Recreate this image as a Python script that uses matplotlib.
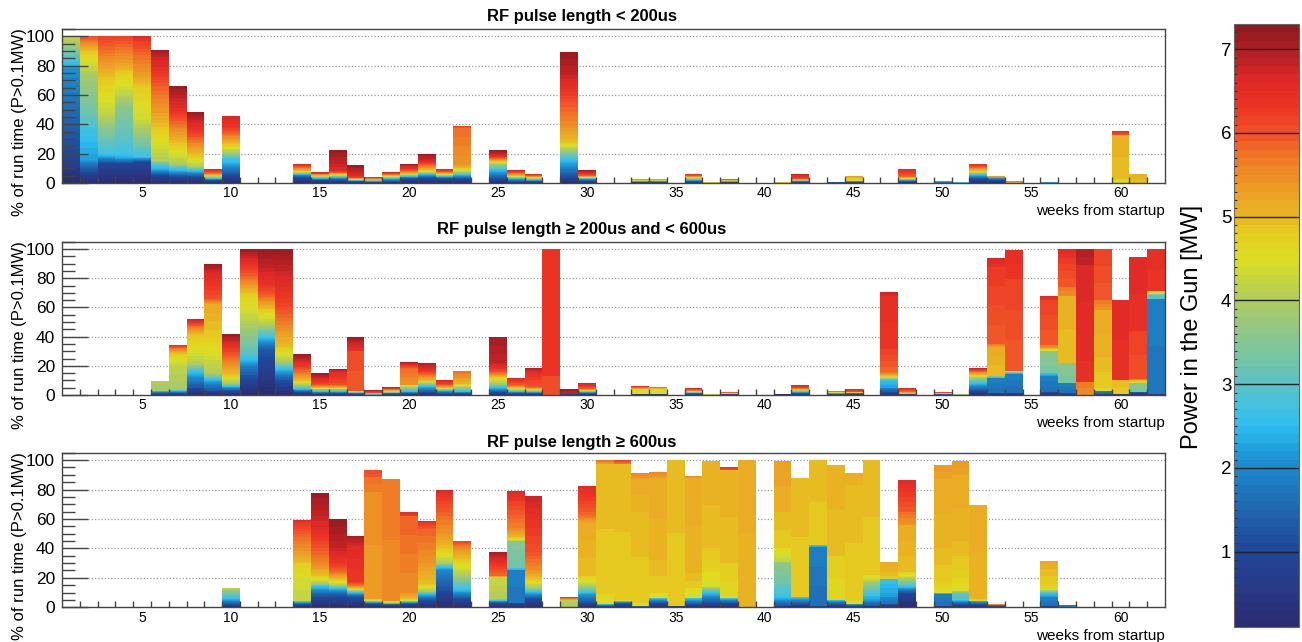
import numpy as np
import matplotlib
matplotlib.use("Agg")
import matplotlib.pyplot as plt
from matplotlib.colors import LinearSegmentedColormap, ListedColormap, BoundaryNorm
from matplotlib.cm import ScalarMappable
from matplotlib.ticker import FixedLocator, MultipleLocator

plt.rcParams['font.family'] = ['Liberation Sans', 'DejaVu Sans']

# ---------------------------------------------------------------------------
# Weekly run-time fractions, split by gun power.
# Each week holds (P_low [MW], P_high [MW], % of run time) slices, stacked
# from low to high power.
# ---------------------------------------------------------------------------
short_pulse = {   # RF pulse length < 200 us
    1: [(0.1, 1.0, 18), (1.0, 2.1, 60), (2.1, 2.8, 6), (2.8, 3.6, 8), (3.6, 4.3, 8)],
    2: [(0.1, 1.0, 7), (1.0, 2.2, 9), (2.2, 2.7, 20), (2.7, 3.2, 11), (3.2, 3.9, 26), (3.9, 4.3, 7), (4.3, 4.8, 9), (4.8, 5.7, 8), (5.7, 6.1, 3)],
    3: [(0.1, 1.0, 13), (1.0, 2.3, 5), (2.3, 2.7, 2), (2.7, 3.5, 16), (3.5, 4.2, 11), (4.2, 4.8, 23), (4.8, 5.3, 10), (5.3, 5.8, 11), (5.8, 6.2, 9)],
    4: [(0.1, 1.0, 13), (1.0, 2.3, 4), (2.3, 2.7, 3), (2.7, 3.6, 32), (3.6, 4.2, 9), (4.2, 4.8, 14), (4.8, 5.3, 7), (5.3, 5.8, 11), (5.8, 6.2, 7)],
    5: [(0.1, 1.0, 14), (1.0, 2.7, 4), (2.7, 3.8, 16), (3.8, 4.3, 9), (4.3, 4.8, 22), (4.8, 5.3, 8), (5.3, 5.8, 14), (5.8, 6.2, 9), (6.2, 6.6, 4)],
    6: [(0.1, 1.0, 5), (1.0, 2.3, 4), (2.3, 2.8, 3), (2.8, 4.0, 3), (4.0, 4.8, 21), (4.8, 5.3, 12), (5.3, 5.9, 18), (5.9, 6.4, 11), (6.4, 6.9, 11), (6.9, 7.2, 2.6)],
    7: [(0.1, 1.0, 4), (1.0, 2.3, 4), (2.3, 2.8, 2), (2.8, 4.0, 3), (4.0, 4.8, 13), (4.8, 5.3, 7), (5.3, 5.9, 9), (5.9, 6.4, 7), (6.4, 6.9, 11), (6.9, 7.2, 6)],
    8: [(0.1, 1.0, 4), (1.0, 2.3, 3.5), (2.3, 2.8, 1.5), (2.8, 4.0, 2), (4.0, 4.8, 7), (4.8, 5.6, 9), (5.6, 6.2, 7), (6.2, 6.8, 9), (6.8, 7.2, 5.6)],
    9: [(0.1, 1.0, 1.6), (1.0, 2.8, 1.6), (2.8, 4.8, 1.8), (4.8, 5.8, 1.6), (5.8, 6.6, 2.8)],
    10: [(0.1, 1.0, 4.5), (1.0, 2.3, 8.5), (2.3, 2.8, 4), (2.8, 4.0, 4), (4.0, 4.8, 5), (4.8, 5.3, 3.5), (5.3, 5.9, 4.5), (5.9, 6.3, 4.5), (6.3, 6.7, 6.9)],
    14: [(0.1, 1.2, 4), (1.2, 2.6, 2), (2.6, 4.0, 1), (4.0, 5.0, 1.5), (5.0, 6.0, 2.5), (6.0, 6.8, 2.2)],
    15: [(0.1, 1.2, 2), (1.2, 2.6, 1.2), (2.6, 4.0, 1), (4.0, 5.0, 1), (5.0, 6.0, 1), (6.0, 6.8, 1.1)],
    16: [(0.1, 1.2, 2), (1.2, 2.6, 2), (2.6, 4.0, 1), (4.0, 5.0, 1), (5.0, 6.0, 1.2), (6.0, 6.6, 1.3), (6.6, 7.2, 13.8)],
    17: [(0.1, 1.2, 1), (1.2, 2.6, 0.8), (2.6, 4.0, 0.4), (4.0, 5.0, 0.6), (5.0, 6.0, 0.7), (6.0, 6.6, 1.5), (6.6, 7.2, 7.5)],
    18: [(0.1, 1.2, 0.5), (1.2, 3.0, 1.0), (3.0, 5.0, 0.8), (5.0, 6.6, 1.6)],
    19: [(0.1, 1.2, 1), (1.2, 2.6, 2), (2.6, 4.0, 1), (4.0, 5.0, 1), (5.0, 6.0, 1), (6.0, 6.8, 1.5)],
    20: [(0.1, 1.2, 3), (1.2, 2.6, 1.5), (2.6, 4.0, 1), (4.0, 5.0, 1), (5.0, 5.8, 1.5), (5.8, 6.6, 3), (6.6, 7.2, 2.2)],
    21: [(0.1, 1.2, 3.5), (1.2, 2.6, 2.5), (2.6, 4.0, 1), (4.0, 5.0, 2), (5.0, 5.8, 3), (5.8, 6.6, 3), (6.6, 7.2, 4.8)],
    22: [(0.1, 1.2, 3), (1.2, 2.6, 1.5), (2.6, 4.0, 0.8), (4.0, 5.0, 1), (5.0, 6.0, 1.5), (6.0, 6.8, 2)],
    23: [(0.1, 1.2, 3), (1.2, 2.6, 2.5), (2.6, 4.0, 2), (4.0, 5.0, 3), (5.0, 5.4, 2), (5.4, 5.8, 25), (5.8, 6.2, 1.1)],
    25: [(0.1, 1.2, 3), (1.2, 2.6, 6), (2.6, 4.0, 4), (4.0, 5.0, 2), (5.0, 6.0, 2), (6.0, 6.6, 1.5), (6.6, 7.2, 4)],
    26: [(0.1, 1.2, 1), (1.2, 2.6, 2), (2.6, 4.0, 1), (4.0, 5.0, 1), (5.0, 6.0, 2), (6.0, 6.8, 1.9)],
    27: [(0.1, 1.2, 1), (1.2, 2.6, 1), (2.6, 4.0, 1), (4.0, 5.0, 1), (5.0, 6.0, 1), (6.0, 6.8, 1.4)],
    29: [(0.1, 1.2, 4.5), (1.2, 2.6, 11.5), (2.6, 4.0, 7), (4.0, 4.9, 5), (4.9, 5.5, 11), (5.5, 6.0, 16), (6.0, 6.4, 9), (6.4, 6.9, 12), (6.9, 7.2, 13.3)],
    30: [(0.1, 1.2, 1.5), (1.2, 2.6, 1.5), (2.6, 4.0, 0.5), (4.0, 5.0, 0.7), (5.0, 6.0, 1), (6.0, 6.6, 1.8), (6.6, 7.2, 2.1)],
    33: [(0.1, 1.5, 0.8), (1.5, 4.5, 0.9), (4.5, 6.5, 1.3)],
    34: [(0.1, 1.5, 0.8), (1.5, 4.5, 1.0), (4.5, 6.3, 1.2)],
    36: [(0.1, 1.2, 1), (1.2, 2.6, 1), (2.6, 4.0, 1), (4.0, 5.0, 1), (5.0, 6.0, 1), (6.0, 6.6, 1.4)],
    37: [(4.5, 5.0, 0.6)],
    38: [(0.1, 1.5, 0.8), (1.5, 4.5, 0.7), (4.5, 6.5, 1.2)],
    41: [(4.5, 5.0, 0.6)],
    42: [(0.1, 1.2, 0.8), (1.2, 3.0, 0.7), (3.0, 5.0, 0.6), (5.0, 6.0, 0.8), (6.0, 6.8, 3.0)],
    44: [(0.5, 2.0, 0.8)],
    45: [(0.1, 2.0, 1.0), (2.0, 4.5, 0.5), (4.5, 5.2, 2.8), (5.2, 6.2, 0.7)],
    48: [(0.1, 1.2, 1), (1.2, 2.6, 1), (2.6, 4.5, 1), (4.5, 5.8, 1.3), (5.8, 6.6, 5)],
    50: [(0.1, 2.0, 0.4), (5.5, 6.2, 1.2)],
    51: [(2.5, 3.0, 0.6)],
    52: [(0.1, 1.2, 3), (1.2, 2.6, 2.5), (2.6, 4.0, 1.5), (4.0, 5.0, 1.5), (5.0, 6.0, 2.5), (6.0, 6.6, 2)],
    53: [(0.1, 1.2, 2), (1.2, 2.6, 1.8), (2.6, 5.0, 0.4), (5.0, 6.2, 0.8)],
    54: [(0.5, 2.0, 0.3), (5.2, 5.8, 1.1)],
    56: [(1.5, 2.8, 0.6), (4.2, 4.8, 0.4)],
    60: [(4.4, 4.7, 3), (4.9, 5.1, 30), (6.0, 6.5, 2.5)],
    61: [(4.9, 5.1, 6), (5.8, 6.2, 0.4)],
}

mid_pulse = {   # 200 us <= RF pulse length < 600 us
    6: [(0.1, 1.2, 1), (1.2, 2.8, 2), (3.8, 4.1, 6.5)],
    7: [(0.1, 1.2, 1.2), (1.2, 2.8, 1.8), (2.8, 3.9, 1), (3.9, 4.2, 16), (4.2, 4.8, 8), (4.8, 5.8, 4), (5.8, 6.4, 2)],
    8: [(0.1, 1.2, 5), (1.2, 2.2, 8), (2.2, 2.8, 4), (2.8, 4.0, 4), (4.0, 4.5, 10), (4.5, 4.9, 10), (4.9, 5.8, 6), (5.8, 6.8, 5)],
    9: [(0.1, 1.2, 3), (1.2, 2.2, 6), (2.2, 2.8, 2), (2.8, 4.0, 4), (4.0, 4.8, 24), (4.8, 5.2, 23), (5.2, 6.0, 4), (6.0, 6.6, 17), (6.6, 7.2, 7)],
    10: [(0.1, 1.2, 3), (1.2, 2.6, 3), (2.6, 4.0, 2), (4.0, 4.9, 6), (4.9, 5.5, 7), (5.5, 6.2, 10), (6.2, 6.8, 6), (6.8, 7.2, 5)],
    11: [(0.1, 1.8, 19), (1.8, 3.0, 9), (3.0, 4.2, 25), (4.2, 4.8, 16), (4.8, 5.8, 11), (5.8, 6.6, 13), (6.6, 7.2, 7)],
    12: [(0.1, 1.3, 31), (1.3, 2.7, 9), (2.7, 4.0, 8), (4.0, 4.8, 10), (4.8, 5.8, 9), (5.8, 6.4, 9), (6.4, 6.9, 14), (6.9, 7.2, 10)],
    13: [(0.1, 1.2, 10), (1.2, 2.6, 8), (2.6, 4.0, 5), (4.0, 4.9, 10), (4.9, 5.6, 15), (5.6, 6.2, 15), (6.2, 6.8, 22), (6.8, 7.2, 15)],
    14: [(0.1, 1.2, 2), (1.2, 2.6, 2), (2.6, 4.0, 3), (4.0, 5.0, 3), (5.0, 5.8, 6), (5.8, 6.4, 5), (6.4, 7.2, 7)],
    15: [(0.1, 1.2, 1), (1.2, 2.6, 1.5), (2.6, 4.0, 1.5), (4.0, 5.0, 1), (5.0, 6.0, 2), (6.0, 6.6, 4), (6.6, 7.2, 3.8)],
    16: [(0.1, 1.2, 1), (1.2, 2.6, 1.5), (2.6, 4.0, 1.5), (4.0, 5.0, 1), (5.0, 6.0, 2), (6.0, 6.6, 9), (6.6, 7.2, 2)],
    17: [(0.1, 1.5, 1), (1.5, 5.0, 1.5), (5.9, 6.1, 27.5), (6.4, 6.8, 6), (6.8, 7.2, 4)],
    18: [(2.5, 4.0, 1.5), (6.0, 7.0, 1.9)],
    19: [(0.1, 1.5, 1), (1.5, 4.0, 1), (4.0, 5.0, 1), (5.0, 6.0, 1), (6.0, 6.8, 1.2)],
    20: [(0.1, 1.2, 1), (1.2, 2.6, 1.5), (2.6, 4.0, 3), (4.0, 5.0, 1.5), (5.4, 5.8, 11), (5.8, 6.4, 2.5), (6.4, 7.0, 2)],
    21: [(0.1, 1.2, 2), (1.2, 2.6, 4), (2.6, 4.0, 2), (4.0, 5.0, 2), (5.0, 5.8, 4), (5.8, 6.4, 3), (6.4, 7.0, 5)],
    22: [(0.1, 1.2, 1), (1.2, 2.6, 2), (2.6, 4.0, 1), (4.0, 5.0, 1), (5.0, 6.0, 2), (6.0, 6.8, 3.5)],
    23: [(0.1, 1.2, 1), (1.2, 2.6, 1.5), (2.6, 3.8, 2.5), (3.8, 5.0, 2.5), (5.0, 5.8, 8.9)],
    25: [(0.1, 1.2, 2), (1.2, 2.6, 3), (2.6, 4.0, 3), (4.0, 4.8, 4), (4.8, 5.8, 3), (5.8, 6.4, 3), (6.4, 6.8, 4), (6.8, 7.1, 17.8)],
    26: [(0.1, 1.2, 1), (1.2, 2.6, 1.5), (2.6, 4.5, 1.5), (4.5, 5.8, 2.5), (5.8, 6.6, 5.3)],
    27: [(0.1, 1.2, 1), (1.2, 2.6, 1), (2.6, 4.0, 1), (4.0, 5.0, 1), (5.0, 6.0, 1.5), (6.0, 6.4, 9), (6.4, 7.0, 4.1)],
    28: [(6.0, 6.1, 13), (6.3, 6.4, 87)],
    29: [(0.1, 1.2, 0.5), (2.5, 3.5, 0.5), (6.8, 7.2, 2.9)],
    30: [(0.1, 1.2, 1), (1.2, 2.6, 1), (2.6, 4.5, 1), (4.5, 5.8, 1), (5.8, 6.8, 4)],
    33: [(0.1, 1.5, 1), (4.4, 4.6, 3), (5.0, 5.8, 1), (5.8, 6.5, 1.1)],
    34: [(0.1, 1.5, 0.8), (4.4, 4.6, 3.5), (5.0, 5.8, 0.9)],
    36: [(0.1, 1.5, 1), (1.5, 4.5, 1.2), (4.5, 5.8, 1), (5.8, 6.6, 1.3)],
    37: [(3.8, 4.2, 0.4)],
    38: [(0.1, 1.5, 0.6), (3.0, 5.0, 0.6), (5.5, 6.5, 1.1)],
    41: [(0.1, 0.3, 0.4)],
    42: [(0.1, 1.2, 1), (1.2, 2.6, 1), (2.6, 4.0, 1), (4.0, 5.0, 0.7), (5.0, 6.0, 1), (6.0, 6.8, 2.1)],
    44: [(0.1, 1.5, 0.8), (1.5, 4.5, 0.8), (4.5, 6.2, 1.1)],
    45: [(0.1, 1.5, 1), (1.5, 4.5, 0.6), (4.5, 6.0, 0.5), (6.0, 6.6, 2.0)],
    47: [(0.1, 1.2, 2), (1.2, 2.0, 3), (2.2, 2.6, 5), (2.6, 4.8, 2.5), (4.8, 5.8, 3), (5.8, 6.2, 16), (6.3, 6.5, 36), (6.6, 6.8, 3)],
    48: [(0.1, 1.5, 0.5), (2.5, 4.8, 0.8), (4.8, 5.8, 1), (5.8, 6.6, 2.2)],
    50: [(0.1, 1.5, 0.4), (3.0, 5.0, 0.7), (5.5, 6.5, 0.9)],
    51: [(3.2, 3.8, 0.5)],
    52: [(0.1, 1.2, 3), (1.2, 2.6, 5), (2.6, 4.0, 4), (4.0, 5.0, 2), (5.0, 6.0, 2.5), (6.0, 6.8, 1.7)],
    53: [(0.1, 1.2, 1.5), (1.6, 1.9, 10), (2.2, 4.6, 2.5), (4.9, 5.2, 19), (5.3, 5.8, 2), (5.9, 6.3, 53), (6.4, 6.7, 5.6)],
    54: [(0.1, 1.2, 1.5), (1.6, 1.9, 13), (2.2, 4.8, 2), (5.9, 6.2, 63), (6.3, 6.5, 19.8)],
    56: [(0.1, 1.2, 2), (1.6, 1.9, 11), (2.2, 2.6, 2), (3.3, 3.6, 15), (4.4, 5.0, 2), (5.3, 5.7, 2), (5.9, 6.2, 31), (6.4, 6.6, 2.5)],
    57: [(0.1, 1.2, 1.2), (1.6, 1.9, 6.8), (3.3, 3.6, 14), (4.9, 5.1, 46), (5.5, 5.7, 6), (5.9, 6.1, 11), (6.1, 6.3, 9), (6.4, 6.6, 6)],
    58: [(5.5, 5.7, 9), (6.4, 6.6, 28), (6.5, 6.7, 52), (6.8, 7.0, 11)],
    59: [(0.1, 1.2, 1), (1.5, 2.0, 2), (4.4, 4.7, 2), (4.8, 5.0, 21), (5.0, 5.2, 32), (5.4, 5.7, 7), (5.9, 6.2, 35)],
    60: [(0.1, 1.5, 1), (4.8, 5.0, 9), (6.4, 6.6, 55.2)],
    61: [(0.1, 1.5, 2), (3.3, 3.6, 6), (4.5, 5.0, 2), (5.5, 5.8, 1), (6.0, 6.2, 33), (6.4, 6.6, 50.8)],
    62: [(0.1, 1.2, 1), (1.7, 1.9, 65), (2.9, 3.3, 3), (4.3, 4.8, 2), (6.3, 6.5, 29)],
}

long_pulse = {   # RF pulse length >= 600 us
    10: [(0.1, 1.2, 2), (1.2, 2.6, 4), (2.6, 3.6, 5), (3.6, 4.2, 1.9)],
    14: [(0.1, 1.2, 2), (1.2, 2.8, 2), (4.2, 4.4, 16), (4.5, 4.8, 10), (4.9, 5.4, 8), (5.4, 5.9, 12), (5.9, 6.3, 7), (6.3, 6.6, 2.3)],
    15: [(0.1, 1.2, 8), (1.2, 2.6, 6), (2.6, 4.0, 2.5), (4.0, 4.9, 5), (4.9, 5.5, 7), (5.5, 6.0, 12), (6.0, 6.6, 14), (6.6, 7.2, 23.3)],
    16: [(0.1, 1.2, 8), (1.2, 2.6, 5), (2.6, 4.0, 2), (4.0, 4.9, 4), (4.9, 5.8, 5), (5.8, 6.3, 6), (6.3, 6.8, 10), (6.8, 7.2, 19.7)],
    17: [(0.1, 1.2, 7), (1.2, 2.6, 3), (2.6, 4.5, 2), (4.5, 5.8, 3), (5.8, 6.2, 2), (6.3, 6.6, 24), (6.6, 7.1, 7.4)],
    18: [(0.1, 1.5, 3), (2.0, 3.0, 1), (4.0, 5.0, 1.5), (5.3, 5.5, 73), (5.6, 5.8, 10), (5.9, 6.1, 4.5)],
    19: [(0.1, 1.5, 2), (2.0, 3.0, 1), (4.2, 5.0, 1.5), (5.5, 5.7, 82.5)],
    20: [(0.1, 1.5, 3), (2.0, 3.0, 1), (4.2, 5.0, 2), (5.0, 5.4, 4), (5.5, 5.9, 52), (6.2, 6.5, 2.5)],
    21: [(0.1, 1.2, 5), (1.2, 2.6, 4), (2.6, 4.0, 2), (4.0, 4.9, 5), (4.9, 5.4, 14), (5.4, 5.9, 23), (5.9, 6.3, 4), (6.3, 6.6, 1.6)],
    22: [(0.1, 1.2, 12), (1.2, 2.0, 13), (2.0, 2.8, 3), (2.8, 4.0, 2), (4.0, 4.9, 10), (4.9, 5.4, 10), (5.4, 5.9, 15), (5.9, 6.3, 10), (6.3, 6.7, 5)],
    23: [(0.1, 1.2, 6), (1.2, 2.6, 6), (2.6, 4.0, 10), (4.0, 4.9, 11), (4.9, 5.6, 8), (5.6, 6.2, 4)],
    25: [(0.1, 1.2, 3), (1.2, 2.6, 1.5), (2.6, 3.8, 1), (4.0, 4.3, 14.5), (4.5, 5.8, 1.5), (5.8, 6.2, 6), (6.2, 6.7, 6), (6.7, 7.1, 4.3)],
    26: [(0.1, 1.2, 3), (1.7, 1.9, 22), (2.2, 2.8, 2), (3.2, 3.5, 18), (4.2, 5.0, 3), (5.0, 5.6, 6), (5.6, 6.2, 18), (6.3, 6.6, 7)],
    27: [(0.1, 1.2, 6), (1.2, 2.6, 4.5), (2.6, 4.0, 3), (4.0, 4.9, 6), (4.9, 5.5, 6), (5.5, 6.0, 12), (6.0, 6.4, 22), (6.4, 6.8, 16.1)],
    29: [(3.9, 4.2, 5), (5.0, 5.8, 1), (6.0, 6.6, 1.2)],
    30: [(0.1, 1.2, 3), (1.2, 2.2, 6), (2.2, 2.8, 1.5), (2.8, 4.2, 5), (4.2, 4.8, 6), (4.9, 5.2, 36), (5.2, 5.8, 5), (5.8, 6.2, 10), (6.2, 6.6, 10.1)],
    31: [(0.1, 1.5, 1), (1.6, 2.4, 1), (4.5, 4.7, 7), (4.8, 5.0, 88), (5.2, 5.8, 3)],
    32: [(0.1, 1.2, 2.5), (1.2, 2.6, 1.5), (4.4, 4.6, 1), (4.8, 5.0, 92), (5.6, 6.2, 3)],
    33: [(0.1, 2.5, 1), (4.4, 4.6, 2), (4.8, 5.0, 62), (5.0, 5.2, 22), (5.3, 5.6, 4)],
    34: [(0.1, 1.2, 3), (1.2, 2.6, 3), (4.4, 4.6, 4), (4.8, 5.0, 22), (5.0, 5.2, 56), (5.3, 5.6, 3.6)],
    35: [(0.1, 1.2, 0.8), (4.8, 5.0, 99.2)],
    36: [(0.1, 1.2, 2), (1.2, 2.6, 4), (4.4, 4.6, 7), (4.8, 5.0, 10), (5.0, 5.2, 65), (5.3, 5.6, 1.4)],
    37: [(0.1, 1.2, 3), (1.2, 2.6, 7), (2.6, 4.2, 4), (4.4, 4.6, 10), (4.7, 4.9, 16), (4.9, 5.1, 59.3)],
    38: [(0.1, 1.2, 3), (1.2, 2.6, 3), (4.6, 4.8, 24), (4.9, 5.1, 63), (6.0, 6.4, 2.5)],
    39: [(0.1, 1.2, 0.5), (5.0, 5.2, 99.5)],
    41: [(0.1, 1.2, 1), (1.2, 2.6, 6), (2.6, 3.2, 9), (3.2, 3.7, 15), (4.2, 4.6, 9), (4.8, 5.0, 25), (5.1, 5.3, 34.3)],
    42: [(0.1, 1.2, 2), (1.2, 2.6, 5), (4.8, 5.0, 81)],
    43: [(0.1, 1.2, 1), (1.6, 1.9, 40), (2.2, 2.8, 1.5), (4.8, 5.0, 57.5)],
    44: [(0.1, 1.2, 2), (1.2, 2.6, 3), (4.6, 4.8, 30), (4.9, 5.1, 61.6)],
    45: [(0.1, 1.2, 1), (1.2, 2.6, 1.5), (4.4, 4.8, 2.5), (4.8, 5.0, 78), (5.0, 5.2, 8)],
    46: [(0.1, 1.2, 1), (1.2, 2.2, 4), (2.2, 2.8, 5), (2.8, 4.0, 8), (4.2, 4.6, 4), (4.8, 5.0, 78)],
    47: [(0.1, 1.2, 2), (1.6, 2.0, 5), (2.2, 2.6, 12), (4.8, 5.0, 5), (5.0, 5.2, 6.5)],
    48: [(0.1, 1.0, 10), (1.2, 2.6, 4), (2.6, 4.0, 5), (4.0, 4.8, 5), (4.9, 5.2, 32), (5.4, 5.8, 9), (5.9, 6.3, 13), (6.3, 6.6, 8.4)],
    50: [(0.1, 1.2, 1), (1.6, 1.9, 8), (2.2, 2.6, 1), (4.5, 4.8, 7), (4.8, 5.0, 23), (5.0, 5.2, 47), (5.2, 5.4, 9.6)],
    51: [(0.1, 1.2, 2), (1.2, 2.6, 3), (2.9, 3.2, 5), (3.4, 4.2, 1), (4.5, 4.8, 14), (4.8, 5.0, 20), (5.0, 5.2, 45), (5.2, 5.4, 9.3)],
    52: [(0.1, 1.2, 2), (1.2, 2.6, 2.5), (4.6, 4.8, 1), (5.0, 5.2, 64)],
    53: [(0.1, 1.8, 1.3), (5.2, 5.8, 1)],
    56: [(0.1, 1.2, 1), (1.6, 1.9, 6), (2.2, 2.6, 3), (3.0, 4.4, 2), (4.5, 4.8, 4), (4.8, 5.0, 10), (5.0, 5.2, 5.4)],
    57: [(1.7, 1.9, 1.3)],
}

panel_data = [short_pulse, mid_pulse, long_pulse]
panel_titles = ["RF pulse length < 200us",
                "RF pulse length \u2265 200us and < 600us",
                "RF pulse length \u2265 600us"]
week_labels = [5, 10, 15, 20, 25, 30, 35, 40, 45, 50, 55, 60]
n_weeks = 62
power_labels = [1, 2, 3, 4, 5, 6, 7]

# ---------------------------------------------------------------------------
# Power palette: 0.1 MW wide colour bands from 0.1 to 7.3 MW
# ---------------------------------------------------------------------------
anchor_p = [0.1, 0.6, 1.0, 1.5, 2.0, 2.3, 2.5, 2.8, 3.0, 3.5, 4.0, 4.5, 4.8,
            5.0, 5.3, 5.6, 6.0, 6.3, 6.6, 7.0, 7.3]
anchor_c = ["#2a2c70", "#283a88", "#1f4797", "#2066ae", "#1d88cc", "#22a8e0",
            "#2ebdef", "#48c2da", "#5cc2c3", "#85c694", "#aecb5e", "#dcdf22",
            "#e4cc20", "#e8b822", "#eba025", "#ee8526", "#f05328", "#eb3625",
            "#e02a26", "#b01f25", "#8c191e"]
p_min, p_max, p_step = 0.1, 7.3, 0.1
smooth = LinearSegmentedColormap.from_list(
    "gun", [((p - p_min) / (p_max - p_min), c) for p, c in zip(anchor_p, anchor_c)])
n_bands = int(round((p_max - p_min) / p_step))
band_edges = p_min + p_step * np.arange(n_bands + 1)
band_colors = smooth((np.arange(n_bands) + 0.5) / n_bands)
band_cmap = ListedColormap(band_colors)
band_norm = BoundaryNorm(band_edges, n_bands)


def band_index(p):
    return int(round((p - p_min) / p_step))


def draw_stack(ax, weekly):
    xs, hs, bs, cs = [], [], [], []
    for week, slices in weekly.items():
        base = 0.0
        for p_lo, p_hi, pct in slices:
            i0 = min(max(band_index(p_lo), 0), n_bands - 1)
            n = max(1, band_index(p_hi) - band_index(p_lo))
            for k in range(n):
                xs.append(week)
                hs.append(pct / n)
                bs.append(base + pct * k / n)
                cs.append(band_colors[min(i0 + k, n_bands - 1)])
            base += pct
    ax.bar(xs, hs, width=1.0, bottom=bs, color=cs, linewidth=0,
           antialiased=False, zorder=1)


# ---------------------------------------------------------------------------
# Figure layout (pixel geometry of a 1302 x 642 canvas)
# ---------------------------------------------------------------------------
W, H = 1302, 642
fig = plt.figure(figsize=(W / 100, H / 100), dpi=100)
ax_left, ax_right = 62, 1165
panel_px = [(29, 183), (241.7, 395), (452.7, 607.3)]
title_y = [17, 230, 442]
axis_col = "#444444"

for k, (weekly, (top, bottom)) in enumerate(zip(panel_data, panel_px)):
    ax = fig.add_axes([ax_left / W, 1 - bottom / H, (ax_right - ax_left) / W, (bottom - top) / H])
    ax.set_axisbelow(False)
    for g in range(20, 101, 20):
        ax.axhline(g, color="#9a9a9a", lw=0.9, ls=(0, (1, 1.6)), zorder=0.5)
    draw_stack(ax, weekly)
    ax.set_xlim(0.5, n_weeks + 0.5)
    ax.set_ylim(0, 105)

    ax.xaxis.set_major_locator(FixedLocator(week_labels))
    ax.xaxis.set_minor_locator(FixedLocator(np.arange(1.5, n_weeks, 1.0)))
    ax.yaxis.set_major_locator(MultipleLocator(20))
    ax.yaxis.set_minor_locator(MultipleLocator(5))
    ax.tick_params(axis="x", which="major", length=0, labelsize=10, pad=2.5)
    ax.tick_params(axis="x", which="minor", direction="in", length=4.5, width=1, color=axis_col)
    ax.tick_params(axis="y", which="major", direction="in", length=18.5, width=1,
                   color=axis_col, labelsize=12.5, pad=5)
    ax.tick_params(axis="y", which="minor", direction="in", length=9.3, width=1, color=axis_col)
    for s in ax.spines.values():
        s.set_color(axis_col)
        s.set_linewidth(1.0)

    ax.annotate("weeks from startup", xy=(1, 0), xycoords="axes fraction",
                xytext=(0, -20.5), textcoords="offset points",
                ha="right", va="center", fontsize=11)
    fig.text(20 / W, 1 - (top - 1) / H, "% of run time (P>0.1MW)", rotation=90,
             ha="center", va="top", fontsize=12)
    fig.text(582 / W, 1 - title_y[k] / H, panel_titles[k], ha="center", va="center",
             fontsize=12, fontweight="bold")

# Colour scale
cax = fig.add_axes([1234 / W, 1 - 627 / H, 65 / W, 603 / H])
sm = ScalarMappable(norm=band_norm, cmap=band_cmap)
cb = fig.colorbar(sm, cax=cax, ticks=power_labels, spacing="proportional")
cb.outline.set_edgecolor("#666666")
cb.outline.set_linewidth(0.8)
cax.yaxis.set_ticks_position("left")
cax.yaxis.set_minor_locator(FixedLocator(band_edges[1:-1]))
cax.tick_params(which="major", length=0, labelsize=13.5, pad=2)
cax.tick_params(which="minor", direction="in", length=2.5, width=0.8, color="#333333",
                left=True, right=False)
for p in power_labels:
    cax.axhline(p, color="#222222", lw=1.0)
fig.text(1192 / W, 1 - 327 / H, "Power in the Gun [MW]", rotation=90,
         ha="center", va="center", fontsize=17)

fig.savefig("out.png", dpi=100)
